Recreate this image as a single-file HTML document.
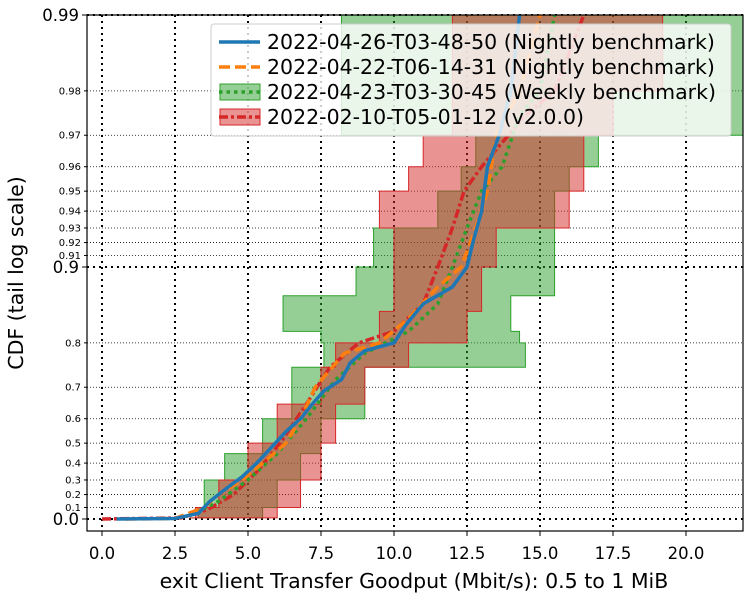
<!DOCTYPE html>
<html><head><meta charset="utf-8">
<style>
body{margin:0;background:#fff;}
svg{font-family:"DejaVu Sans","Liberation Sans",sans-serif;}
</style></head>
<body>
<svg id="chart" width="750" height="600" viewBox="0 0 750 600">
<defs><clipPath id="clip"><rect x="87" y="15" width="656" height="516"/></clipPath></defs>
<g id="grid"></g>
<g id="bands" clip-path="url(#clip)"></g>
<g id="lines" clip-path="url(#clip)"></g>
<rect x="87" y="15" width="656" height="516" fill="none" stroke="#000" stroke-width="1.2"/>
<g id="xticks"></g>
<g id="yticks"></g>
<text x="414" y="588" font-size="20.5" text-anchor="middle">exit Client Transfer Goodput (Mbit/s): 0.5 to 1 MiB</text>
<text transform="translate(23,273) rotate(-90)" font-size="20.5" text-anchor="middle">CDF (tail log scale)</text>
<g>
<rect x="211" y="24" width="520" height="112" rx="3" fill="#fff" fill-opacity="0.8" stroke="#ccc"/>
<line x1="219" y1="42" x2="260" y2="42" stroke="#1f77b4" stroke-width="3.5"/>
<text x="267" y="49" font-size="20.5">2022-04-26-T03-48-50 (Nightly benchmark)</text>
<line x1="219" y1="67" x2="260" y2="67" stroke="#ff7f0e" stroke-width="3.5" stroke-dasharray="11,5"/>
<text x="267" y="74" font-size="20.5">2022-04-22-T06-14-31 (Nightly benchmark)</text>
<rect x="220" y="84" width="40" height="16" fill="#2ca02c" fill-opacity="0.5" stroke="#2ca02c"/>
<line x1="219" y1="92" x2="260" y2="92" stroke="#2ca02c" stroke-width="3.5" stroke-dasharray="3.5,4"/>
<text x="267" y="99" font-size="20.5">2022-04-23-T03-30-45 (Weekly benchmark)</text>
<rect x="220" y="109" width="40" height="16" fill="#d62728" fill-opacity="0.5" stroke="#d62728"/>
<line x1="219" y1="117" x2="260" y2="117" stroke="#d62728" stroke-width="3.5" stroke-dasharray="9,3,3,3"/>
<text x="267" y="124" font-size="20.5">2022-02-10-T05-01-12 (v2.0.0)</text>
</g>
</svg>
<script>
const xTicks=[0,2.5,5,7.5,10,12.5,15,17.5,20];
const yMajor=[0,0.9,0.99];
const yMinor=[0.1,0.2,0.3,0.4,0.5,0.6,0.7,0.8,0.91,0.92,0.93,0.94,0.95,0.96,0.97,0.98];
const blueX=[0.5,2.5,3.3,3.7,4.3,4.8,5.3,5.8,6.3,6.8,7.2,7.6,8.2,8.5,9,10,10.4,11,12,12.5,12.7,13,13.2,13.6,14,14.3];
const blueP=[0,0.005,0.05,0.15,0.25,0.32,0.4,0.48,0.55,0.6,0.65,0.69,0.72,0.76,0.785,0.8,0.83,0.86,0.88,0.9,0.92,0.94,0.96,0.97,0.98,0.99];
const orangeX=[0.8,2.5,3.5,4,4.8,5.5,6.3,6.8,7.3,8.3,9.5,10.5,11.5,12.3,12.8,13.2,13.5,14.3,15];
const orangeP=[0,0.005,0.1,0.2,0.3,0.4,0.5,0.6,0.7,0.78,0.8,0.84,0.88,0.9,0.93,0.95,0.97,0.98,0.99];
const greenX=[3,4,5,6,7,8,9,10.5,11.5,12,12.5,13,13.7,14.3,15,15.5];
const greenP=[0.03,0.15,0.3,0.45,0.6,0.72,0.78,0.82,0.86,0.9,0.93,0.95,0.96,0.975,0.98,0.99];
const redX=[0,2.7,3.6,4.5,5.3,6.1,7,7.8,8.8,10,11,11.5,12,12.4,13,14.5,15.5,16.5];
const redP=[0,0.01,0.08,0.2,0.35,0.5,0.65,0.75,0.8,0.82,0.86,0.9,0.93,0.95,0.96,0.975,0.98,0.99];
const greenBandP=[0.01,0.1,0.3,0.45,0.6,0.75,0.8,0.82,0.87,0.9,0.93,0.95,0.96,0.97,0.98,0.99];
const greenBandLo=[3,3.3,3.5,4.2,5.5,6.5,7.6,7.5,6.2,8.7,9.3,11.5,12.3,12.8,8.2,8.2];
const greenBandHi=[5,5.5,6,6.8,7.5,9,14.5,14.3,14.0,15.5,15.5,15.5,16,17,22,22];
const redBandP=[0.01,0.1,0.3,0.5,0.65,0.75,0.8,0.85,0.9,0.93,0.95,0.96,0.97,0.98,0.99];
const redBandLo=[3,3.2,4,5,6,7.5,8,9.5,10,10,9.5,10.5,11,12,12];
const redBandHi=[5.5,6,6.8,7.5,8,9,10.5,12.5,13,13.5,16,16.5,16.5,17.5,19.2];

const NS="http://www.w3.org/2000/svg";
function X(v){return 102+29.2*v;}
function Y(p){p=Math.min(p,0.99);return 519-252*(-Math.log10(1-p));}
function mk(tag,attrs,parent){const e=document.createElementNS(NS,tag);for(const k in attrs)e.setAttribute(k,attrs[k]);parent.appendChild(e);return e;}
const grid=document.getElementById('grid'),xt=document.getElementById('xticks'),yt=document.getElementById('yticks');
const L=87,R=743,T=15,B=531;
xTicks.forEach(v=>{
  const l=mk('line',{x1:X(v),x2:X(v),y1:T,y2:B,stroke:'#000','stroke-width':2,'stroke-dasharray':'2,4'},grid);
  
  
  const t=mk('line',{x1:X(v),x2:X(v),y1:B,y2:B+5,stroke:'#000'},xt);
  
  
  const tx=mk('text',{x:X(v),y:B+28,'font-size':16.5,'text-anchor':'middle'},xt);
  tx.textContent=v.toFixed(1);
  
  
});
yMajor.forEach(p=>{
  const l=mk('line',{x1:L,x2:R,y1:Y(p),y2:Y(p),stroke:'#000','stroke-width':2,'stroke-dasharray':'2,4'},grid);
  
  
  const t=mk('line',{x1:L-5,x2:L,y1:Y(p),y2:Y(p),stroke:'#000'},yt);
  
  
  const tx=mk('text',{x:L-8,y:Y(p)+6,'font-size':16.5,'text-anchor':'end'},yt);
  tx.textContent=String(p===0?'0.0':p);
  
  
});
yMinor.forEach(p=>{
  const l=mk('line',{x1:L,x2:R,y1:Y(p),y2:Y(p),stroke:'#000','stroke-width':0.8,'stroke-dasharray':'1,2'},grid);
  
  
  const t=mk('line',{x1:L-3,x2:L,y1:Y(p),y2:Y(p),stroke:'#000'},yt);
  
  
  const tx=mk('text',{x:L-6,y:Y(p)+3.5,'font-size':10,'text-anchor':'end'},yt);
  tx.textContent=String(p);
  
  
});
function band(P,lo,hi,color,name){
  let d='';
  for(let i=0;i<P.length;i++){const y0=Y(i?P[i-1]:P[0]),y1=Y(P[i]);d+=(i?'L':'M')+X(lo[i])+','+y0+'L'+X(lo[i])+','+y1;}
  for(let i=P.length-1;i>=0;i--){const y0=Y(i?P[i-1]:P[0]),y1=Y(P[i]);d+='L'+X(hi[i])+','+y1+'L'+X(hi[i])+','+y0;}
  const e=mk('path',{d:d+'Z',fill:color,'fill-opacity':0.5,stroke:color,'stroke-width':1},document.getElementById('bands'));
  
  
}
band(greenBandP,greenBandLo,greenBandHi,'#2ca02c','green-band');
band(redBandP,redBandLo,redBandHi,'#d62728','red-band');
function line(xs,ps,color,dash,name){
  const d=xs.map((v,i)=>(i?'L':'M')+X(v)+','+Y(ps[i])).join('');
  const e=mk('path',{d:d,fill:'none',stroke:color,'stroke-width':3.5,'stroke-dasharray':dash,'stroke-linejoin':'round'},document.getElementById('lines'));
  
  
}
line(redX,redP,'#d62728','9,3,3,3','red-line');
line(greenX,greenP,'#2ca02c','3.5,4','green-line');
line(orangeX,orangeP,'#ff7f0e','11,5','orange-line');
line(blueX,blueP,'#1f77b4','none','blue-line');
</script>
</body></html>
